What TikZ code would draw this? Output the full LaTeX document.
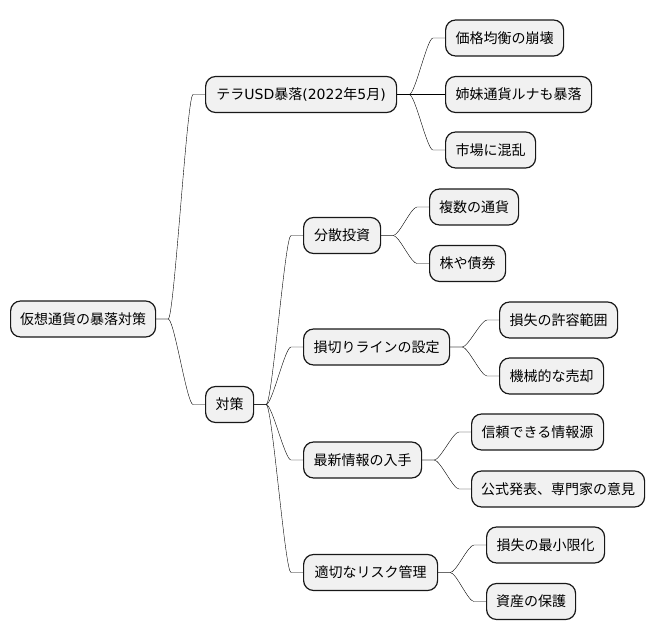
\documentclass[tikz,border=0pt]{standalone}
\usepackage{fontspec}
\setmainfont{DejaVu Sans}
\newfontfamily\cjk{Noto Sans CJK JP}
\usetikzlibrary{calc}
\definecolor{nodefill}{HTML}{F1F1F1}
\definecolor{ink}{HTML}{181818}
\tikzset{
  box/.style={draw=ink, fill=nodefill, line width=1.2pt, rounded corners=10pt,
    anchor=west, minimum height=36pt, inner sep=0pt, text=black,
    font=\cjk\fontsize{14}{16}\selectfont},
  link/.style={draw=ink, line width=0.9pt,
    to path={-- ++(12,0) .. controls +(6,0) and +(-6,0) .. ($(\tikztotarget.west)+(-12,0)$) -- (\tikztotarget.west)}},
}
\begin{document}
\begin{tikzpicture}[x=1pt,y=-1pt]
\useasboundingbox (0,0) rectangle (656,640);
% level 1
\node[box, minimum width=145pt] (root) at (10,319) {仮想通貨の暴落対策};
% level 2
\node[box, minimum width=191pt] (tera) at (205,94.5) {テラ{\rmfamily USD}暴落{\rmfamily (2022}年{\rmfamily 5}月{\rmfamily )}};
\node[box, minimum width=48pt] (taisaku) at (205,404.5) {対策};
% level 3 under tera
\node[box, minimum width=118pt] (k1) at (445,38) {価格均衡の崩壊};
\node[box, minimum width=146pt] (k2) at (445,94.5) {姉妹通貨ルナも暴落};
\node[box, minimum width=90pt] (k3) at (445,150) {市場に混乱};
% level 3 under taisaku
\node[box, minimum width=77pt] (bunsan) at (303,235.5) {分散投資};
\node[box, minimum width=146pt] (songiri) at (303,347) {損切りラインの設定};
\node[box, minimum width=118pt] (saishin) at (303,460) {最新情報の入手};
\node[box, minimum width=134pt] (tekisetsu) at (303,572.5) {適切なリスク管理};
% level 4
\node[box, minimum width=89pt] (b1) at (429,207) {複数の通貨};
\node[box, minimum width=76pt] (b2) at (429,263.5) {株や債券};
\node[box, minimum width=118pt] (s1) at (499,320) {損失の許容範囲};
\node[box, minimum width=104pt] (s2) at (499,376) {機械的な売却};
\node[box, minimum width=132pt] (j1) at (471,432) {信頼できる情報源};
\node[box, minimum width=173pt] (j2) at (471,489) {公式発表、専門家の意見};
\node[box, minimum width=118pt] (t1) at (486,545) {損失の最小限化};
\node[box, minimum width=89pt] (t2) at (486,601.5) {資産の保護};
% connectors
\draw (root.east) to[link] (tera);
\draw (root.east) to[link] (taisaku);
\draw (tera.east) to[link] (k1);
\draw (tera.east) to[link] (k2);
\draw (tera.east) to[link] (k3);
\draw (taisaku.east) to[link] (bunsan);
\draw (taisaku.east) to[link] (songiri);
\draw (taisaku.east) to[link] (saishin);
\draw (taisaku.east) to[link] (tekisetsu);
\draw (bunsan.east) to[link] (b1);
\draw (bunsan.east) to[link] (b2);
\draw (songiri.east) to[link] (s1);
\draw (songiri.east) to[link] (s2);
\draw (saishin.east) to[link] (j1);
\draw (saishin.east) to[link] (j2);
\draw (tekisetsu.east) to[link] (t1);
\draw (tekisetsu.east) to[link] (t2);
\end{tikzpicture}
\end{document}
